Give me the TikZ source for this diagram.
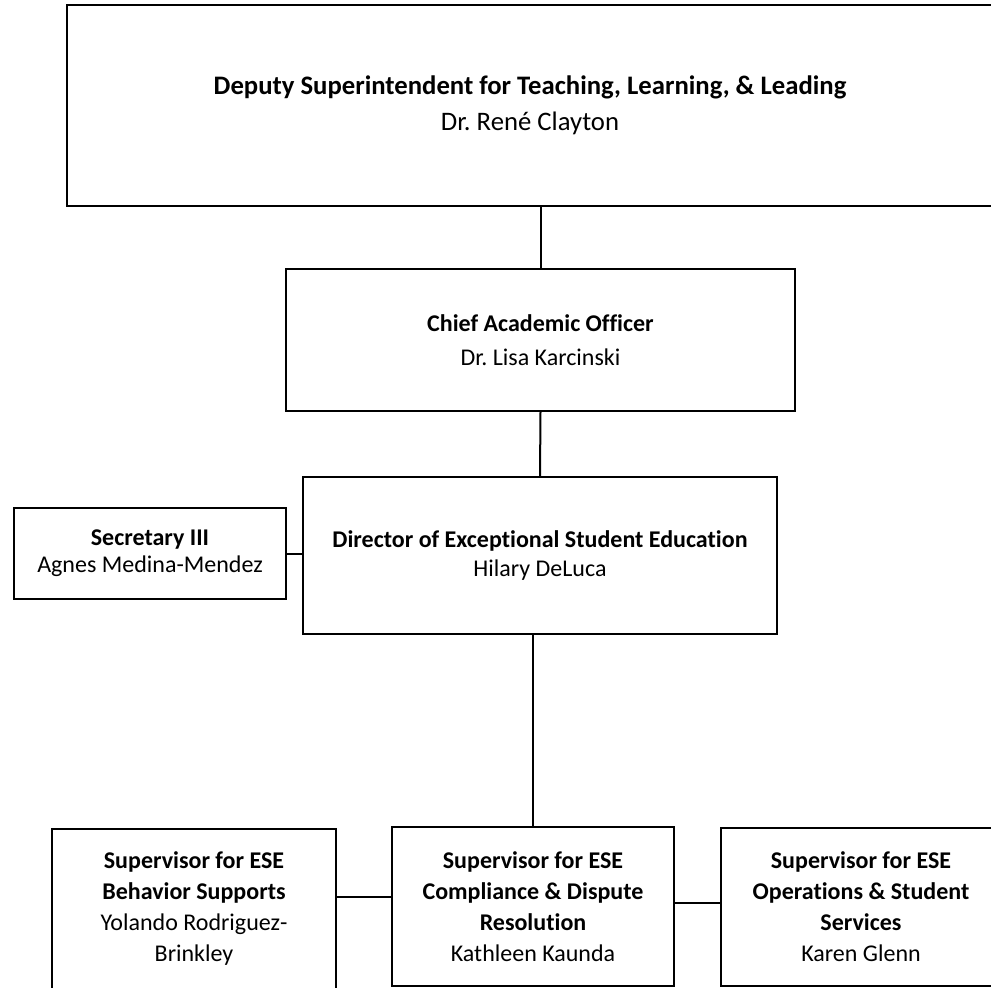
\documentclass[tikz,border=0pt]{standalone}
\usepackage{fontspec}
\setmainfont{Carlito}[Ligatures={NoCommon}]
\frenchspacing
\begin{document}
\begin{tikzpicture}[x=1pt,y=-1pt,
  box/.style={draw=black,line width=2pt,rectangle,inner sep=0pt,align=center,
              font=\fontsize{24}{28}\selectfont},
  topbox/.style={box,font=\fontsize{26.7}{30}\selectfont},
  secbox/.style={box,font=\fontsize{24}{27}\selectfont},
  lowbox/.style={box,font=\fontsize{24}{31}\selectfont},
  link/.style={draw=black,line width=2pt}]
\useasboundingbox (0,0) rectangle (991,988);
\clip (0,0) rectangle (991,988);
% boxes
\node[topbox,minimum width=926pt,minimum height=201pt] (dep) at (530,105.5)
  {\textbf{Deputy Superintendent for Teaching, Learning, \& Leading}\\[6pt]Dr. René Clayton};
\node[box,minimum width=509pt,minimum height=142pt] (chief) at (540.5,340)
  {\textbf{Chief Academic Officer}\\[6pt]Dr. Lisa Karcinski};
\node[box,minimum width=474pt,minimum height=157pt] (dir) at (540,555.5)
  {\textbf{Director of Exceptional Student Education}\\[1pt]Hilary DeLuca};
\node[secbox,minimum width=272pt,minimum height=91pt] (sec) at (150,553.5)
  {\textbf{Secretary III}\\Agnes Medina-Mendez};
\node[lowbox,minimum width=284pt,minimum height=160pt] (s1) at (194,909)
  {\textbf{Supervisor for ESE}\\\textbf{Behavior Supports}\\Yolando Rodriguez-\\Brinkley};
\node[lowbox,minimum width=282pt,minimum height=159pt] (s2) at (533,906.5)
  {\textbf{Supervisor for ESE}\\\textbf{Compliance \& Dispute}\\\textbf{Resolution}\\Kathleen Kaunda};
\node[lowbox,minimum width=280pt,minimum height=158pt] (s3) at (861,907)
  {\textbf{Supervisor for ESE}\\\textbf{Operations \& Student}\\\textbf{Services}\\Karen Glenn};
% connectors
\draw[link] (chief.north |- dep.south) -- (chief.north);
\draw[link] (chief.south) -- (dir.north);
\draw[link] (sec.east) -- (sec.east -| dir.west);
\draw[link] (s2.north |- dir.south) -- (s2.north);
\coordinate (y12) at (0,897);
\coordinate (y23) at (0,903);
\draw[link] (s1.east |- y12) -- (s2.west |- y12);
\draw[link] (s2.east |- y23) -- (s3.west |- y23);
\end{tikzpicture}
\end{document}
